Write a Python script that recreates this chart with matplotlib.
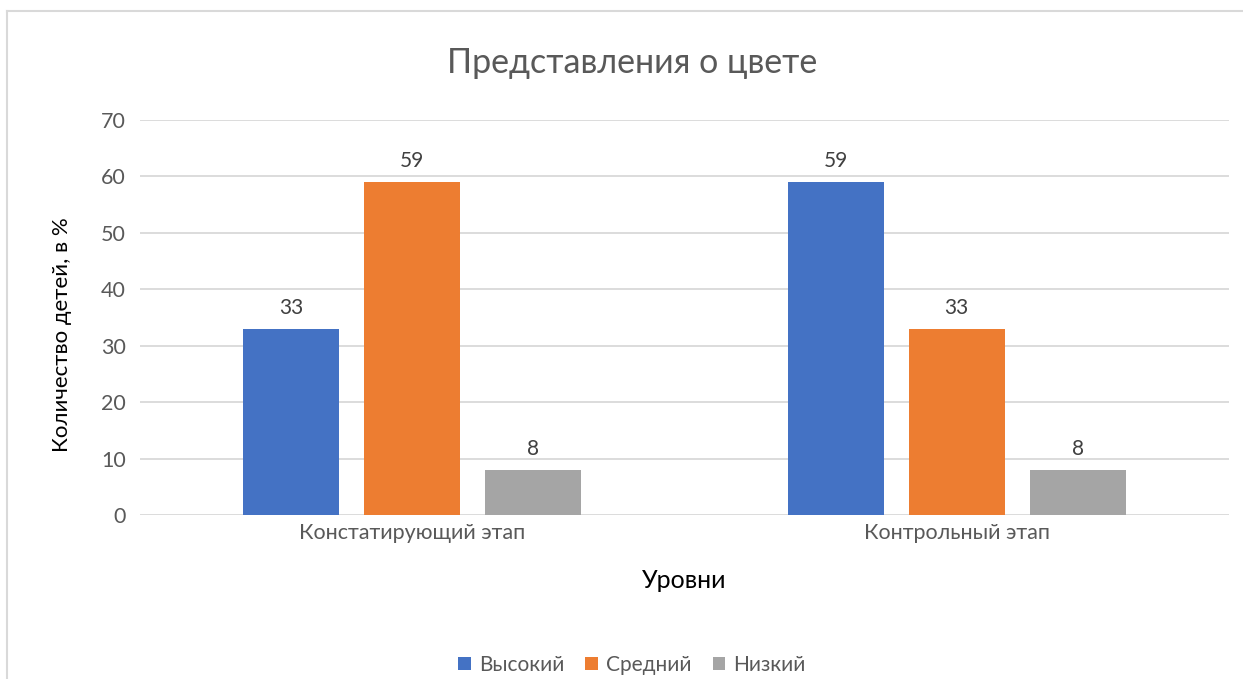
import numpy as np
import matplotlib.pyplot as plt
from matplotlib.lines import Line2D

plt.rcParams['font.family'] = ['Lato', 'DejaVu Sans']

# Данные
etapy = ["Констатирующий этап", "Контрольный этап"]
urovni = ["Высокий", "Средний", "Низкий"]
vysokiy = [33, 59]
sredniy = [59, 33]
nizkiy = [8, 8]
tsveta = ["#4472C4", "#ED7D31", "#A5A5A5"]

W, H = 1243, 679
fig = plt.figure(figsize=(W / 100, H / 100), dpi=100)
ax = fig.add_axes([140 / W, 1 - 515 / H, (1229 - 140) / W, (515 - 120) / H])

x = np.arange(len(etapy))
shirina = 0.176
shag = 0.222

for i, (znach, nazv, cvet) in enumerate(zip([vysokiy, sredniy, nizkiy], urovni, tsveta)):
    bars = ax.bar(x + (i - 1) * shag, znach, width=shirina, color=cvet, label=nazv, zorder=3)
    ax.bar_label(bars, padding=8, fontsize=15, color="#404040")

ax.set_xlim(-0.5, 1.5)
ax.set_ylim(0, 70)
ax.set_yticks(range(0, 71, 10))
ax.set_xticks(x)
ax.set_xticklabels(etapy)
ax.grid(axis="y", color="#D9D9D9", linewidth=1.3, zorder=0)
for s in ax.spines.values():
    s.set_visible(False)
ax.tick_params(axis="both", length=0, labelsize=15.5, labelcolor="#595959")
ax.tick_params(axis="y", pad=10)
ax.tick_params(axis="x", pad=6)

ax.set_xlabel("Уровни", fontsize=18, color="#000000")
ax.xaxis.set_label_coords(0.5, -(581 - 515) / (515 - 120), transform=ax.transAxes)
ax.xaxis.label.set_va("center")
ax.set_ylabel("Количество детей, в %", fontsize=16, color="#000000")
ax.yaxis.set_label_coords(-(140 - 62) / (1229 - 140), (515 - 335) / (515 - 120))
ax.yaxis.label.set_va("center")

fig.text(632 / W, 1 - 63 / H, "Представления о цвете", fontsize=24.5, color="#595959",
         ha="center", va="center")

fig.legend(loc="center", bbox_to_anchor=(632 / W, 1 - 665 / H), ncol=3, frameon=False,
           fontsize=15, handlelength=0.6, handleheight=0.6, handletextpad=0.4,
           columnspacing=1.0, labelcolor="#595959")

# рамка диаграммы
fig.add_artist(Line2D([7 / W, 1], [1 - 11 / H, 1 - 11 / H], color="#D9D9D9", lw=1.5))
fig.add_artist(Line2D([7 / W, 7 / W], [0, 1 - 11 / H], color="#D9D9D9", lw=1.5))

fig.savefig("out.png", dpi=100)
